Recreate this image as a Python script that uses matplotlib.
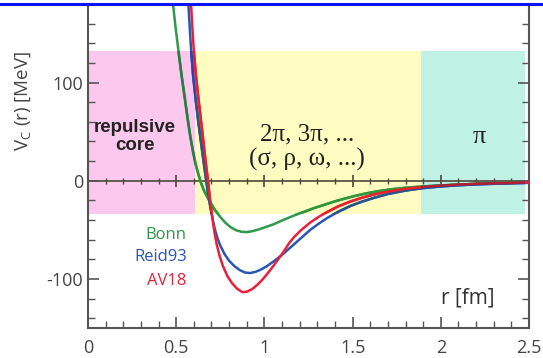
import matplotlib
matplotlib.use("Agg")
import matplotlib.pyplot as plt
from matplotlib.patches import Rectangle
from matplotlib.lines import Line2D
from matplotlib.ticker import MultipleLocator
from matplotlib.colors import to_rgb

# ---- data ----
bonn_r = [0.482, 0.497, 0.513, 0.53, 0.548, 0.565, 0.58, 0.595, 0.61, 0.625, 0.64, 0.66,
          0.69, 0.72, 0.75, 0.78, 0.81, 0.84, 0.87, 0.90, 0.93, 0.97, 1.01, 1.05, 1.10,
          1.16, 1.22, 1.28, 1.34, 1.40, 1.46, 1.52, 1.58, 1.65, 1.72, 1.80, 1.90, 2.0,
          2.1, 2.2, 2.35, 2.5]
bonn_v = [180, 155, 132, 108, 85, 63, 45, 30, 17, 7, -2, -11,
          -21, -30, -37, -43, -47.5, -50.5, -52, -52.3, -51.5, -49.5, -47, -44.5, -40.5,
          -36, -32, -28, -24.5, -21, -18, -15.2, -12.8, -10.5, -8.7, -7.2, -5.8, -4.8,
          -3.9, -3.2, -2.4, -1.8]

reid_r = [0.569, 0.577, 0.585, 0.596, 0.609, 0.624, 0.64, 0.655, 0.668, 0.68, 0.69, 0.70,
          0.71, 0.72, 0.735, 0.75, 0.775, 0.80, 0.83, 0.86, 0.89, 0.92, 0.95, 0.98, 1.01,
          1.05, 1.10, 1.16, 1.21, 1.26, 1.31, 1.36, 1.42, 1.49, 1.55, 1.62, 1.70, 1.80,
          1.90, 2.0, 2.1, 2.2, 2.35, 2.5]
reid_v = [180, 155, 132, 107, 85, 62, 40, 20, 3, -12, -23, -33,
          -42, -50, -59, -66, -75, -81.5, -87, -91, -93.5, -94, -92.8, -90.5, -87.5,
          -82.5, -75.5, -66, -58, -50, -43.5, -37.5, -31.5, -25.5, -21.5, -17.5, -13.5, -10,
          -7.5, -5.8, -4.6, -3.7, -2.8, -2.2]

av18_r = [0.584, 0.592, 0.60, 0.612, 0.625, 0.64, 0.654, 0.667, 0.68, 0.692, 0.705, 0.717,
          0.73, 0.745, 0.765, 0.79, 0.815, 0.845, 0.875, 0.90, 0.93, 0.96, 0.99, 1.02,
          1.05, 1.08, 1.11, 1.14, 1.17, 1.21, 1.26, 1.31, 1.36, 1.42, 1.49, 1.55, 1.62,
          1.70, 1.80, 1.90, 2.0, 2.1, 2.2, 2.35, 2.5]
av18_v = [180, 155, 132, 107, 85, 62, 40, 19, 0, -20, -38, -53,
          -65, -76, -87, -97, -104, -110, -113.5, -113, -110.5, -106, -100.5, -94,
          -87, -79.5, -72, -63.5, -57, -50, -42.5, -36.5, -31.5, -26, -21, -17.5, -14,
          -11, -8.2, -6.3, -5, -4, -3.2, -2.4, -1.8]

series_names = ["Bonn", "Reid93", "AV18"]
series_colors = ["#2f9a4c", "#2a56b4", "#e8223c"]

regions_x = [(0.0, 0.607), (0.607, 1.886), (1.886, 2.48)]
region_y = (-33.5, 132)
region_colors = ["#fcc8ee", "#fefcc0", "#bff1e5"]
region_labels = ["repulsive\ncore", "2\u03c0, 3\u03c0, ...\n(\u03c3, \u03c1, \u03c9, ...)", "\u03c0"]

x_ticks = [0, 0.5, 1, 1.5, 2, 2.5]
x_ticklabels = ["0", "0.5", "1", "1.5", "2", "2.5"]
y_ticks = [-100, 0, 100]
y_ticklabels = ["-100", "0", "100"]

# ---- figure ----
W, H = 543, 358
fig = plt.figure(figsize=(W / 100, H / 100), dpi=100)
ax = fig.add_axes([88 / W, 30 / H, (529 - 88) / W, (354 - 30) / H])
ax.set_xlim(0, 2.5)
ax.set_ylim(-150, 180)

spine_col = "#555555"
for s in ["left", "right", "bottom"]:
    ax.spines[s].set_color(spine_col)
    ax.spines[s].set_linewidth(1.5)
ax.spines["top"].set_visible(False)

# coloured regions
rects = []
for (x0, x1), c in zip(regions_x, region_colors):
    rect = Rectangle((x0, region_y[0]), x1 - x0, region_y[1] - region_y[0],
                     facecolor=c, edgecolor="none", zorder=0)
    ax.add_patch(rect)
    rects.append(rect)

# zero line with ticks
sec = ax.secondary_xaxis(150 / 330)
sec.spines["bottom"].set_color("#4a4a3a")
sec.spines["bottom"].set_linewidth(1.2)
sec.set_xticks(x_ticks)
sec.set_xticklabels([])
sec.xaxis.set_minor_locator(MultipleLocator(0.1))
sec.tick_params(axis="x", which="major", direction="inout", length=9, width=1.2, colors="#4a4a3a")
sec.tick_params(axis="x", which="minor", direction="inout", length=5, width=1.0, colors="#4a4a3a")

# curves (colour multiplied by the region colour where they pass over a region)
for r, v, c in zip([bonn_r, reid_r, av18_r], [bonn_v, reid_v, av18_v], series_colors):
    ax.plot(r, v, color=c, lw=1.8, zorder=3, solid_capstyle="round")
    lc = to_rgb(c)
    for rect, rc in zip(rects, region_colors):
        rcc = to_rgb(rc)
        mc = tuple(a * b for a, b in zip(lc, rcc))
        ln, = ax.plot(r, v, color=mc, lw=1.8, zorder=3.1)
        ln.set_clip_path(rect)

# ticks
ax.set_xticks(x_ticks)
ax.set_xticklabels(x_ticklabels)
ax.set_yticks(y_ticks)
ax.set_yticklabels(y_ticklabels)
ax.xaxis.set_minor_locator(MultipleLocator(0.1))
ax.yaxis.set_minor_locator(MultipleLocator(20))
ax.tick_params(axis="both", which="major", direction="in", length=8, width=1.2,
               colors=spine_col, labelcolor="#444444", labelsize=13, right=True)
ax.tick_params(axis="both", which="minor", direction="in", length=5, width=1.0,
               colors=spine_col, right=True)
for lab in ax.get_xticklabels() + ax.get_yticklabels():
    lab.set_family("Open Sans")
ax.tick_params(axis="x", pad=8)

# labels
ax.set_ylabel("V$_\\mathregular{C}$ (r) [MeV]", fontsize=13.5, color="#444444",
              family="Open Sans")
ax.yaxis.set_label_coords(-0.125, 0.70)
ax.text(2.155, -119, "r [fm]", fontsize=15, color="#333333", family="Open Sans",
        ha="center", va="center")

# region labels
ax.text(0.265, 45, region_labels[0], fontsize=13.5, fontweight="bold", color="#222222",
        family="Liberation Sans", ha="center", va="center", linespacing=1.05, zorder=4)
ax.text(1.24, 34, region_labels[1], fontsize=18, color="#222222",
        family="Liberation Serif", ha="center", va="center", linespacing=1.15, zorder=4)
ax.text(2.22, 45, region_labels[2], fontsize=19, color="#222222",
        family="Liberation Serif", ha="center", va="center", zorder=4)

# in-plot legend
for name, c, y in zip(series_names, series_colors, [-55, -78, -102]):
    ax.text(0.56, y, name, color=c, fontsize=12, family="Open Sans",
            ha="right", va="center")

# blue frame line at the top
fig.add_artist(Line2D([0, 1], [1 - 3.5 / H, 1 - 3.5 / H], color="#0a14f0", lw=2.2,
                      transform=fig.transFigure))

fig.savefig("out.png", dpi=100)
